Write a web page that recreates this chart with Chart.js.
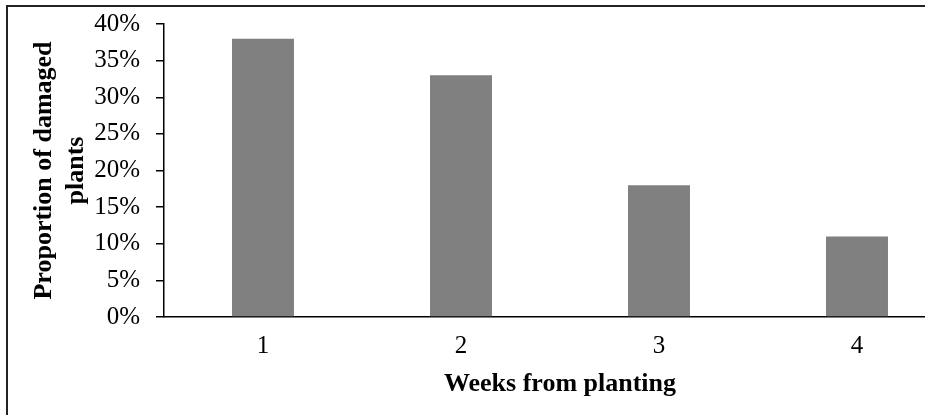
<!DOCTYPE html>
<html>
<head>
<meta charset="utf-8">
<script src="https://cdn.jsdelivr.net/npm/chart.js@4"></script>
<style>
  html, body { margin: 0; padding: 0; background: #fff; overflow: hidden; width: 925px; height: 415px; }
  #wrap { position: relative; width: 925px; height: 415px; overflow: hidden; }
  #frame { position: absolute; left: 6px; top: 5px; width: 1000px; height: 500px;
           border-left: 2px solid #222; border-top: 2px solid #222; pointer-events: none; }
  canvas { position: absolute; left: 0; top: 0; }
</style>
</head>
<body>
<div id="wrap">
  <canvas id="chart" width="960" height="415"></canvas>
  <div id="frame"></div>
</div>
<script>
// data
var weeks = ['1', '2', '3', '4'];
var damaged = [38, 33, 18, 11];   // percent of damaged plants
var yMax = 40;
var yStep = 5;

var serif = '"Liberation Serif", "Times New Roman", serif';

var ctx = document.getElementById('chart').getContext('2d');

new Chart(ctx, {
  type: 'bar',
  data: {
    labels: weeks,
    datasets: [{
      data: damaged,
      backgroundColor: '#808080',
      borderWidth: 0,
      categoryPercentage: 1,
      barPercentage: 0.313
    }]
  },
  options: {
    responsive: false,
    animation: false,
    devicePixelRatio: 1,
    layout: { padding: { left: 10, top: 24, right: 4, bottom: 0 } },
    plugins: { legend: { display: false }, tooltip: { enabled: false } },
    scales: {
      x: {
        grid: { display: false },
        border: { display: true, color: '#000', width: 1.5 },
        ticks: { color: '#000', padding: 6, font: { family: serif, size: 25 } },
        title: {
          display: true,
          text: 'Weeks from planting',
          color: '#000',
          font: { family: serif, size: 26, weight: 'bold', lineHeight: 1.2 },
          padding: { top: 9, bottom: 15 }
        },
        afterFit: function (scale) {
          // fixed height so the axis line sits where it does in the picture
          scale.height = 98;
          scale.paddingLeft = 0;
          scale.paddingRight = 0;
        }
      },
      y: {
        min: 0,
        max: yMax,
        grid: { drawOnChartArea: false, drawTicks: true, tickLength: 8, color: '#000', lineWidth: 1.5 },
        border: { display: true, color: '#000', width: 1.5 },
        ticks: {
          stepSize: yStep,
          color: '#000',
          padding: 16,
          font: { family: serif, size: 25 },
          callback: function (v) { return v + '%'; }
        },
        title: {
          display: true,
          text: ['Proportion of damaged', 'plants'],
          color: '#000',
          font: { family: serif, size: 26, weight: 'bold', lineHeight: 1.25 },
          padding: { top: 18, bottom: 0 }
        },
        afterFit: function (scale) {
          scale.width = 154;
          scale.paddingTop = 0;
          scale.paddingBottom = 0;
        }
      }
    }
  }
});
</script>
</body>
</html>
